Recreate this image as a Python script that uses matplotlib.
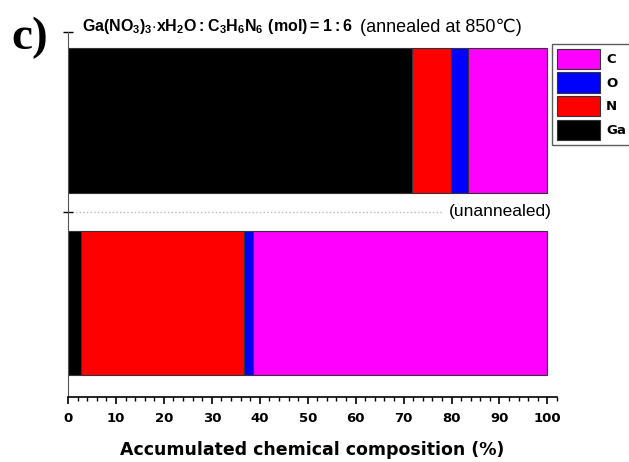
import numpy as np
import matplotlib.pyplot as plt

plt.rcParams['font.family'] = ['Liberation Sans', 'DejaVu Sans']
plt.rcParams['mathtext.fontset'] = 'custom'
plt.rcParams['mathtext.rm'] = 'Liberation Sans'
plt.rcParams['mathtext.bf'] = 'Liberation Sans:bold'

# composition (%) for each sample, stacked left to right as Ga, N, O, C
samples = ['unannealed', 'annealed at 850℃']
elements = ['Ga', 'N', 'O', 'C']
ga = [2.7, 71.8]
n = [34.0, 8.1]
o = [1.9, 3.5]
c = [61.4, 16.6]
colors = {'Ga': '#000000', 'N': '#ff0000', 'O': '#0000ff', 'C': '#ff00ff'}

W, H = 629, 462
fig = plt.figure(figsize=(W / 100, H / 100), dpi=100)
# axes placed in pixel units
left, right, top, bottom = 68, 557, 32, 397
ax = fig.add_axes([left / W, 1 - bottom / H, (right - left) / W, (bottom - top) / H])

y = np.arange(len(samples))
values = {'Ga': ga, 'N': n, 'O': o, 'C': c}
start = np.zeros(len(samples))
handles = {}
for el in elements:
    v = np.array(values[el])
    handles[el] = ax.barh(y, v, left=start, height=0.79, color=colors[el],
                          edgecolor='#333333', linewidth=0.8, label=el)
    start += v

ax.set_xlim(0, 102)
ax.set_ylim(-0.515, 1.485)
ax.axhline(0.5, color='#bbbbbb', linestyle=':', linewidth=1, zorder=0)

for s in ['top', 'right']:
    ax.spines[s].set_visible(False)
ax.spines['left'].set_color('#555555')
ax.spines['bottom'].set_linewidth(1.2)

bold = {'family': 'DejaVu Sans', 'weight': 'bold'}
ax.set_xticks(np.arange(0, 101, 10))
ax.set_xticks(np.arange(0, 103, 2), minor=True)
ax.set_xticklabels([str(t) for t in range(0, 101, 10)], fontdict=bold, fontsize=9.5)
ax.tick_params(axis='x', which='major', direction='out', length=5, width=1.2, pad=6)
ax.tick_params(axis='x', which='minor', direction='out', length=3, width=1)
ax.set_yticks([0.5, 1.485])
ax.set_yticklabels([])
ax.tick_params(axis='y', direction='inout', length=7, width=1)

ax.set_xlabel('Accumulated chemical composition (%)', fontdict=bold,
              fontsize=12.5, labelpad=11)

ax.text(101, 0.5, '(unannealed)', ha='right', va='center', fontsize=12.5,
        backgroundcolor='white')

fig.text(82 / W, 1 - 27 / H,
         r'$\mathbf{Ga(NO_3)_3{\cdot}xH_2O : C_3H_6N_6\ (mol) = 1{:}6}$',
         fontsize=11.5, va='center', ha='left')
fig.text(360 / W, 1 - 27 / H, '(annealed at 850℃)', fontsize=13,
         va='center', ha='left')
fig.text(11 / W, 1 - 38 / H, 'c)', fontsize=34, fontweight='bold',
         family='Liberation Serif', va='center', ha='left')

leg = fig.legend([handles[e] for e in ['C', 'O', 'N', 'Ga']], ['C', 'O', 'N', 'Ga'],
                 loc='upper left', bbox_to_anchor=(552 / W, 1 - 44 / H),
                 prop={'family': 'DejaVu Sans', 'weight': 'bold', 'size': 9.5},
                 handlelength=3.26, handleheight=2.0, labelspacing=0.25,
                 borderaxespad=0, fancybox=False, edgecolor='#333333',
                 handletextpad=0.5, borderpad=0.35)
leg.get_frame().set_linewidth(1)

fig.savefig('out.png', dpi=100)
